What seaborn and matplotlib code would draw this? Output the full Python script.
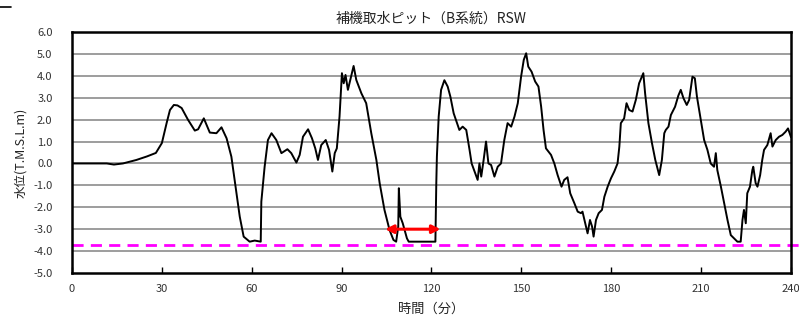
import numpy as np
import pandas as pd
import matplotlib
matplotlib.use("Agg")
import matplotlib.pyplot as plt
from matplotlib.lines import Line2D
import seaborn as sns

# 時間 (分) と 水位 (T.M.S.L.m) : 図から読み取った値
time_min = [
    0, 5, 11.6, 14, 17, 21.5, 25, 28, 30, 31.6, 32.7, 34, 35.2, 36.6, 38.7, 41,
    42.1, 44, 46, 48.2, 49.9, 51.6, 53.2, 54.9, 56, 57.3, 59.3, 61, 63, 63.2,
    64.3, 65.4, 66.6, 68.2, 69.9, 71.9, 73.2, 74.9, 76, 77.1, 78.8, 80.1, 81.2,
    82.1, 83.2, 84.7, 85.8, 86.9, 87.7, 88.4, 89.3, 90.1, 90.7, 91.3, 92.1,
    92.9, 94, 94.9, 96.6, 98.2, 99.9, 101.6, 102.7, 104.3, 106, 107.3, 108.2,
    108.9, 109.1, 109.6, 110.4, 111.8, 112.4, 116, 121.3, 121.6, 121.8, 122.4,
    123.2, 124.3, 125.4, 126.3, 127.4, 129.3, 130.4, 131.6, 132.7, 133.4,
    134.6, 135.4, 136, 136.6, 137.4, 138.2, 139, 139.9, 141, 142.1, 143.2,
    144.3, 145.4, 146.6, 147.7, 148.8, 149.9, 150.8, 151.6, 152.3, 153.4,
    154.6, 155.7, 156.6, 157.4, 158.2, 159.9, 161, 162.1, 163.4, 164.3, 165.4,
    166.3, 167.7, 168.8, 169.9, 170.4, 171.3, 172.1, 172.9, 173.6, 174.1,
    174.9, 175.8, 176.9, 177.7, 178.8, 179.9, 181, 182.1, 182.7, 183.2, 184.3,
    185.1, 186, 187.1, 188.2, 189.3, 190.7, 191.3, 192.4, 193.6, 194.7, 196,
    196.9, 197.7, 198.2, 199.1, 199.9, 201.3, 202.4, 203.2, 204.1, 205.2, 206,
    207.1, 207.9, 208.6, 209.9, 211, 212.1, 213.2, 214.3, 214.9, 215.4, 216.6,
    217.7, 218.8, 219.9, 221, 222.1, 223.2, 223.8, 224.3, 224.9, 225.4, 226.3,
    227.1, 227.4, 228.2, 228.8, 229.7, 230.4, 231, 232.1, 233.2, 233.8, 234.9,
    236, 237.1, 238.2, 239, 240,
]
water_level = [
    0.0, 0.0, 0.0, -0.05, 0.0, 0.16, 0.32, 0.48, 0.93, 1.85, 2.44, 2.67, 2.65,
    2.53, 2.0, 1.5, 1.56, 2.06, 1.41, 1.38, 1.65, 1.15, 0.31, -1.36, -2.43,
    -3.34, -3.57, -3.52, -3.57, -1.74, -0.15, 1.07, 1.38, 1.07, 0.47, 0.65,
    0.47, 0.04, 0.39, 1.22, 1.56, 1.15, 0.69, 0.16, 0.84, 1.07, 0.62, -0.37,
    0.47, 0.69, 2.14, 4.12, 3.66, 4.04, 3.36, 3.81, 4.45, 3.81, 3.2, 2.75,
    1.38, 0.16, -0.9, -2.12, -3.04, -3.49, -3.57, -2.88, -1.13, -2.43, -2.73,
    -3.42, -3.57, -3.57, -3.57, -0.9, 0.31, 2.14, 3.36, 3.8, 3.51, 3.05, 2.29,
    1.53, 1.68, 1.53, 0.62, 0.0, -0.45, -0.75, 0.0, -0.6, 0.16, 1.0, 0.0,
    -0.07, -0.6, -0.15, 0.0, 1.07, 1.84, 1.68, 2.14, 2.75, 3.96, 4.73, 5.03,
    4.42, 4.19, 3.74, 3.51, 2.59, 1.53, 0.69, 0.39, 0.0, -0.53, -1.06, -0.75,
    -0.63, -1.36, -1.82, -2.2, -2.27, -2.2, -2.73, -3.19, -2.58, -2.88, -3.34,
    -2.58, -2.27, -2.12, -1.52, -1.06, -0.68, -0.37, 0.0, 0.77, 1.84, 2.06,
    2.75, 2.44, 2.37, 2.9, 3.66, 4.12, 3.2, 1.84, 0.92, 0.16, -0.53, 0.16,
    1.38, 1.53, 1.68, 2.21, 2.59, 3.1, 3.36, 2.98, 2.67, 2.9, 3.96, 3.89, 3.05,
    1.99, 1.07, 0.62, 0.0, -0.15, 0.47, -0.3, -1.06, -1.82, -2.58, -3.27,
    -3.42, -3.57, -3.57, -2.58, -2.12, -2.73, -1.36, -1.06, -0.3, -0.15, -0.9,
    -1.06, -0.53, 0.16, 0.62, 0.84, 1.38, 0.77, 1.07, 1.22, 1.3, 1.45, 1.6,
    1.2,
]

limit_level = -3.72          # 取水限界 (破線)
arrow_span = [104.5, 123.0]  # 赤矢印の区間 (分)
arrow_level = -3.0

x_ticks = [0, 30, 60, 90, 120, 150, 180, 210, 240]
y_ticks = [6, 5, 4, 3, 2, 1, 0, -1, -2, -3, -4, -5]
y_tick_labels = ["6.0", "5.0", "4.0", "3.0", "2.0", "1.0", "0.0",
                 "-1.0", "-2.0", "-3.0", "-4.0", "-5.0"]

title = "補機取水ピット（B系統）RSW"
x_label = "時間（分）"
y_label = "水位(T.M.S.L.m)"

sns.set_theme(style="white")
plt.rcParams["font.family"] = ["Noto Sans CJK JP", "DejaVu Sans"]

df = pd.DataFrame({"time": time_min, "level": water_level})

fig = plt.figure(figsize=(7.99, 3.28), dpi=100)
ax = fig.add_axes([0.0901, 0.1677, 0.8999, 0.7347])

for yv in y_ticks[1:-1]:
    ax.axhline(yv, color="#8c8c8c", lw=1.2, zorder=1)

sns.lineplot(data=df, x="time", y="level", ax=ax, color="black",
             linewidth=1.4, zorder=3)

ax.plot([0, 243], [limit_level, limit_level], color="#ff00ff", lw=2.0,
        dashes=(4, 2.6), clip_on=False, zorder=2)

ax.annotate("", xy=(arrow_span[0], arrow_level),
            xytext=(arrow_span[1], arrow_level),
            arrowprops=dict(arrowstyle="<|-|>", color="#ff0000", lw=2.2,
                            mutation_scale=12, shrinkA=0, shrinkB=0),
            zorder=4)

ax.set_xlim(0, 240)
ax.set_ylim(-5, 6)
ax.set_xticks(x_ticks)
ax.set_xticklabels([str(v) for v in x_ticks])
ax.set_yticks(y_ticks)
ax.set_yticklabels(y_tick_labels)

ax.tick_params(axis="x", direction="in", length=4, width=1, color="black",
               pad=8, labelsize=8, labelcolor="#333333", bottom=True)
ax.tick_params(axis="y", length=0, pad=14, labelsize=8,
               labelcolor="#333333", left=True)

for side in ["left", "right", "top", "bottom"]:
    ax.spines[side].set_color("black")
    ax.spines[side].set_linewidth(1.8)
    ax.spines[side].set_visible(True)

ax.set_title(title, fontsize=10, pad=7, color="#222222")
ax.set_xlabel(x_label, fontsize=9.5, labelpad=6, color="#222222")
ax.set_ylabel(y_label, fontsize=9, labelpad=4, color="#222222")
ax.grid(False)

# 左上の小さな線
fig.add_artist(Line2D([0.0, 0.014], [0.978, 0.978], color="black", lw=1.2))

fig.savefig("out.png", dpi=100)
